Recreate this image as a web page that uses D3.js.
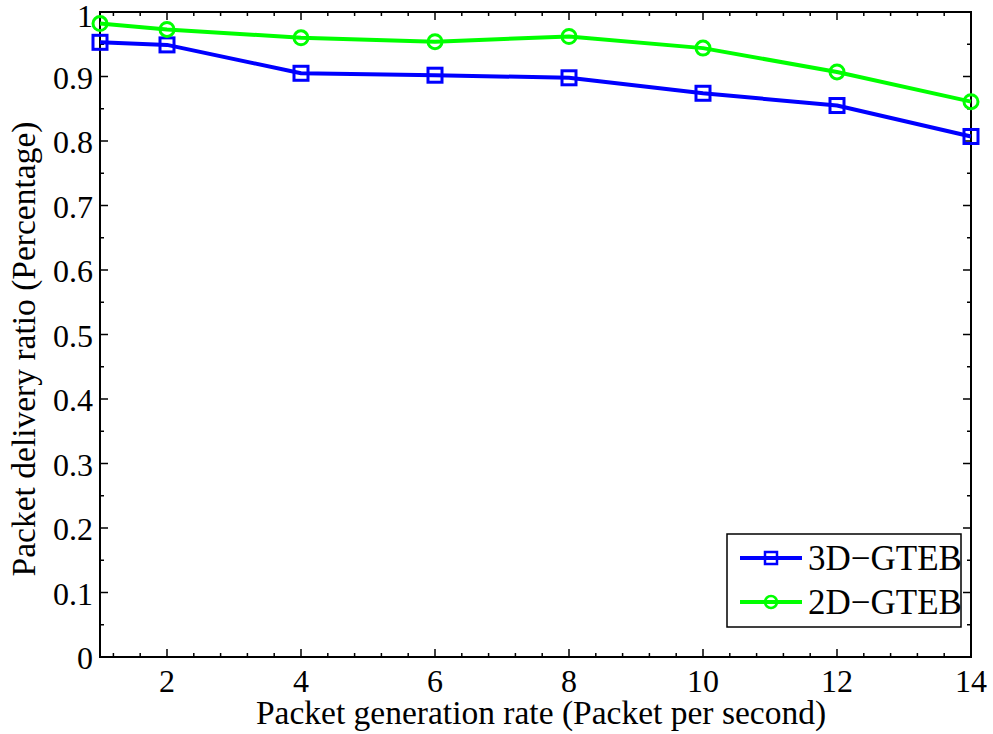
<!DOCTYPE html>
<html>
<head>
<meta charset="utf-8">
<script src="https://cdn.jsdelivr.net/npm/d3@7"></script>
<style>
  body { margin: 0; background: #fff; }
  text { font-family: "Liberation Serif", "Times New Roman", serif; fill: #000; }
</style>
</head>
<body>
<div id="chart"></div>
<script>
// data
var rates = [1, 2, 4, 6, 8, 10, 12, 14];
var gteb3d = [0.953, 0.949, 0.905, 0.902, 0.898, 0.874, 0.855, 0.807];
var gteb2d = [0.982, 0.973, 0.960, 0.954, 0.962, 0.944, 0.907, 0.861];
var xTicks = [2, 4, 6, 8, 10, 12, 14];
var yTicks = [0, 0.1, 0.2, 0.3, 0.4, 0.5, 0.6, 0.7, 0.8, 0.9, 1];

var W = 993, H = 734;
var margin = {top: 12, right: 22, bottom: 77, left: 100},
    width = W - margin.left - margin.right,
    height = H - margin.top - margin.bottom;

var svg = d3.select("#chart").append("svg")
    .attr("width", W).attr("height", H);
var g = svg.append("g")
    .attr("transform", "translate(" + margin.left + "," + margin.top + ")");

var x = d3.scaleLinear().domain([1, 14]).range([0, width]);
var y = d3.scaleLinear().domain([0, 1]).range([height, 0]);

// minor ticks
var xMinor = d3.range(1.2, 14.01, 0.4).filter(function(v) { return Math.abs(v / 2 - Math.round(v / 2)) > 0.01; });
var yMinor = d3.range(0.05, 1, 0.1);

function tickLines(vals, len, isX) {
    vals.forEach(function(v) {
        if (isX) {
            g.append("line").attr("x1", x(v)).attr("x2", x(v)).attr("y1", height).attr("y2", height - len)
                .attr("stroke", "#000").attr("stroke-width", 1.5);
            g.append("line").attr("x1", x(v)).attr("x2", x(v)).attr("y1", 0).attr("y2", len)
                .attr("stroke", "#000").attr("stroke-width", 1.5);
        } else {
            g.append("line").attr("x1", 0).attr("x2", len).attr("y1", y(v)).attr("y2", y(v))
                .attr("stroke", "#000").attr("stroke-width", 1.5);
            g.append("line").attr("x1", width).attr("x2", width - len).attr("y1", y(v)).attr("y2", y(v))
                .attr("stroke", "#000").attr("stroke-width", 1.5);
        }
    });
}
tickLines(xTicks, 8, true);
tickLines(xMinor, 4, true);
tickLines(yTicks, 8, false);
tickLines(yMinor, 4, false);

// frame
g.append("rect").attr("x", 0).attr("y", 0).attr("width", width).attr("height", height)
    .attr("fill", "none").attr("stroke", "#000").attr("stroke-width", 2);

// tick labels
g.selectAll(".xl").data(xTicks).enter().append("text")
    .attr("x", function(d) { return x(d); })
    .attr("y", height + 35)
    .attr("text-anchor", "middle")
    .attr("font-size", "32px")
    .text(function(d) { return d; });
g.selectAll(".yl").data(yTicks).enter().append("text")
    .attr("x", -7)
    .attr("y", function(d) { return y(d) + (d === 1 ? 4 : 1); })
    .attr("dy", "0.35em")
    .attr("text-anchor", "end")
    .attr("font-size", "32px")
    .text(function(d) { return d; });

// axis titles
svg.append("text")
    .attr("x", 541).attr("y", 724)
    .attr("text-anchor", "middle")
    .attr("font-size", "33.5px")
    .text("Packet generation rate (Packet per second)");
svg.append("text")
    .attr("transform", "translate(35,349) rotate(-90)")
    .attr("text-anchor", "middle")
    .attr("font-size", "33.5px")
    .text("Packet delivery ratio (Percentage)");

var line = d3.line()
    .x(function(d, i) { return x(rates[i]); })
    .y(function(d) { return y(d); });

var sq = 14, cr = 7;

function drawSeries(vals, color, marker) {
    g.append("path").datum(vals)
        .attr("d", line)
        .attr("fill", "none").attr("stroke", color).attr("stroke-width", 4)
        .attr("stroke-linejoin", "round");
    vals.forEach(function(v, i) {
        if (marker === "square") {
            g.append("rect")
                .attr("x", x(rates[i]) - sq / 2).attr("y", y(v) - sq / 2)
                .attr("width", sq).attr("height", sq)
                .attr("fill", "none").attr("stroke", color).attr("stroke-width", 3);
        } else {
            g.append("circle")
                .attr("cx", x(rates[i])).attr("cy", y(v)).attr("r", cr)
                .attr("fill", "none").attr("stroke", color).attr("stroke-width", 3);
        }
    });
}
drawSeries(gteb3d, "#0000ff", "square");
drawSeries(gteb2d, "#00ff00", "circle");

// legend
var leg = svg.append("g");
leg.append("rect").attr("x", 727).attr("y", 534).attr("width", 234).attr("height", 93)
    .attr("fill", "#fff").attr("stroke", "#000").attr("stroke-width", 1.5);
var items = [
    {name: "3D\u2212GTEB", color: "#0000ff", marker: "square"},
    {name: "2D\u2212GTEB", color: "#00ff00", marker: "circle"}
];
items.forEach(function(it, i) {
    var cy = 558 + i * 44;
    leg.append("line").attr("x1", 740).attr("x2", 802).attr("y1", cy).attr("y2", cy)
        .attr("stroke", it.color).attr("stroke-width", 4);
    if (it.marker === "square") {
        leg.append("rect").attr("x", 771 - 6).attr("y", cy - 6).attr("width", 12).attr("height", 12)
            .attr("fill", "none").attr("stroke", it.color).attr("stroke-width", 2.5);
    } else {
        leg.append("circle").attr("cx", 771).attr("cy", cy).attr("r", 6)
            .attr("fill", "none").attr("stroke", it.color).attr("stroke-width", 2.5);
    }
    leg.append("text").attr("x", 808).attr("y", cy).attr("dy", "0.35em")
        .attr("font-size", "35px").text(it.name);
});
</script>
</body>
</html>
